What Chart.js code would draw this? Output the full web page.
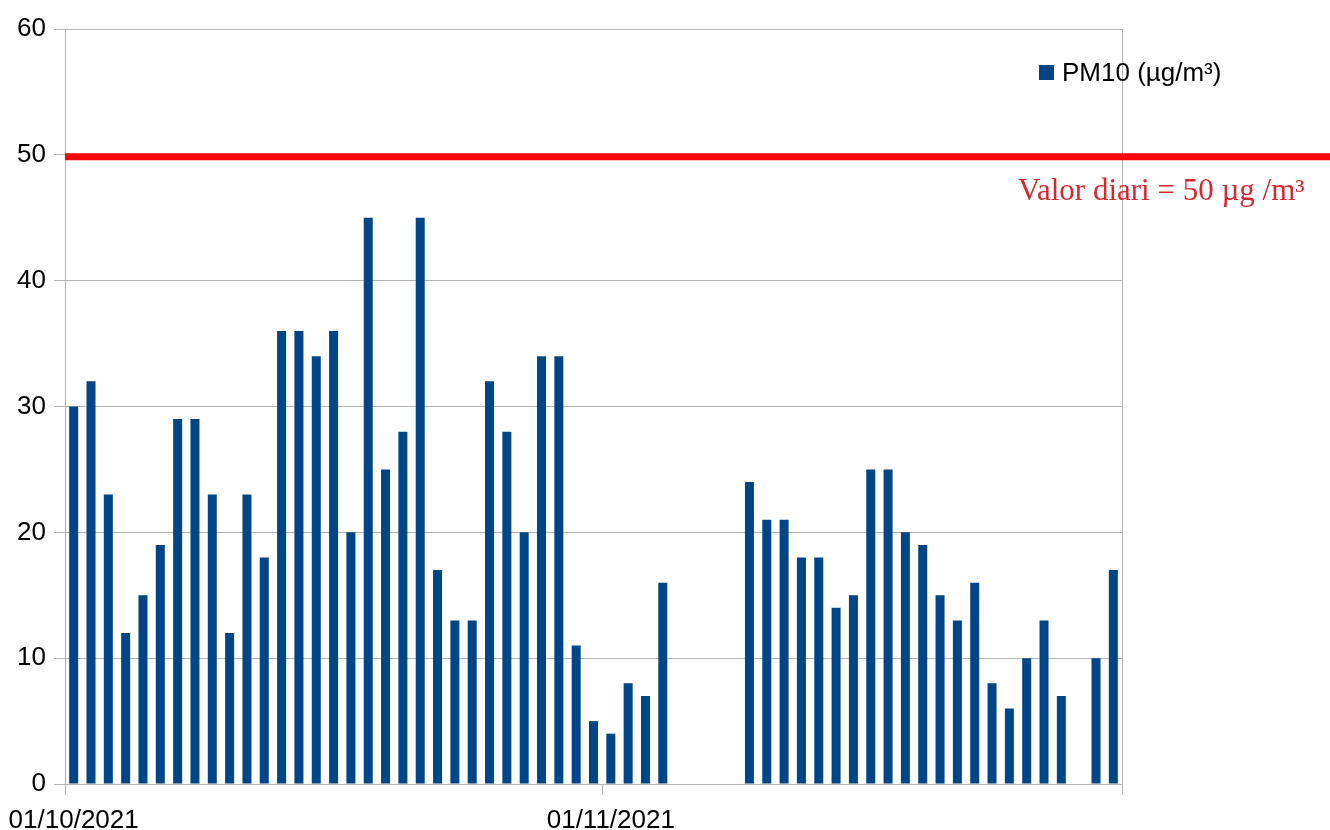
<!DOCTYPE html>
<html>
<head>
<meta charset="utf-8">
<script src="https://cdn.jsdelivr.net/npm/chart.js@4"></script>
<style>
  body { margin: 0; background: #fff; }
</style>
</head>
<body>
<canvas id="pmChart" width="1330" height="830"></canvas>
<script>
// dies de l'1/10/2021 al 30/11/2021
const startDate = new Date(2021, 9, 1);
const numDays = 61;
const pm10 = [
  30, 32, 23, 12, 15, 19, 29, 29, 23, 12, 23, 18, 36, 36, 34, 36, 20, 45, 25, 28,
  45, 17, 13, 13, 32, 28, 20, 34, 34, 11, 5,
  4, 8, 7, 16, null, null, null, null, 24, 21, 21, 18, 18, 14, 15, 25, 25, 20, 19,
  15, 13, 16, 8, 6, 10, 13, 7, null, 10, 17
];
const yTicks = [0, 10, 20, 30, 40, 50, 60];
const limitValue = 50;
const limitText = 'Valor diari = 50 µg /m³';
const seriesName = 'PM10 (µg/m³)';

const labels = [];
for (let i = 0; i < numDays; i++) {
  const d = new Date(startDate.getFullYear(), startDate.getMonth(), startDate.getDate() + i);
  const dd = String(d.getDate()).padStart(2, '0');
  const mm = String(d.getMonth() + 1).padStart(2, '0');
  labels.push(dd + '/' + mm + '/' + d.getFullYear());
}

const barColor = '#004586';
const gridColor = '#b3b3b3';
const font = { family: '"Liberation Sans", Arial, sans-serif', size: 26 };

// linia del valor límit, llegenda i vora dreta
const extras = {
  id: 'extras',
  afterDatasetsDraw(chart) {
    const ctx = chart.ctx;
    const area = chart.chartArea;
    const y = chart.scales.y.getPixelForValue(limitValue) + 2;
    ctx.save();

    ctx.strokeStyle = gridColor;
    ctx.lineWidth = 1;
    ctx.beginPath();
    ctx.moveTo(area.right + 0.5, area.top);
    ctx.lineTo(area.right + 0.5, area.bottom + 11);
    ctx.stroke();

    ctx.strokeStyle = '#ff0000';
    ctx.lineWidth = 7;
    ctx.beginPath();
    ctx.moveTo(area.left, y);
    ctx.lineTo(chart.width, y);
    ctx.stroke();

    ctx.fillStyle = '#d42a2f';
    ctx.font = '31px "Liberation Serif", "Times New Roman", serif';
    ctx.textBaseline = 'alphabetic';
    ctx.textAlign = 'left';
    ctx.fillText(limitText, 1018, y + 43);

    ctx.fillStyle = barColor;
    ctx.fillRect(1039, 65, 15, 15);
    ctx.fillStyle = '#000';
    ctx.font = '26px "Liberation Sans", Arial, sans-serif';
    ctx.textBaseline = 'middle';
    ctx.fillText(seriesName, 1062, 74);
    ctx.restore();
  }
};

new Chart(document.getElementById('pmChart'), {
  type: 'bar',
  data: {
    labels: labels,
    datasets: [{
      label: seriesName,
      data: pm10,
      backgroundColor: barColor,
      barPercentage: 0.52,
      categoryPercentage: 1
    }]
  },
  options: {
    responsive: false,
    animation: false,
    layout: { padding: { top: 29, right: 208, left: 0, bottom: 0 } },
    plugins: {
      legend: { display: false },
      tooltip: { enabled: false }
    },
    scales: {
      x: {
        offset: true,
        grid: {
          offset: true,
          drawOnChartArea: false,
          drawTicks: true,
          tickLength: 11,
          color: function (c) {
            if (c.type !== 'tick') return gridColor;
            return labels[c.index] && labels[c.index].startsWith('01/') ? gridColor : 'rgba(0,0,0,0)';
          }
        },
        border: { color: gridColor },
        ticks: {
          autoSkip: false,
          maxRotation: 0,
          padding: 10,
          color: '#000',
          font: font,
          callback: function (v, i) {
            return labels[i].startsWith('01/') ? labels[i] : '';
          }
        },
        afterFit: function (scale) {
          scale.height = 46;
          scale.paddingLeft = 0;
          scale.paddingRight = 0;
        }
      },
      y: {
        min: 0,
        max: 60,
        afterBuildTicks: function (scale) {
          scale.ticks = yTicks.map(v => ({ value: v }));
        },
        grid: { color: gridColor, tickLength: 11 },
        border: { color: gridColor },
        ticks: { color: '#000', font: font, padding: 8 },
        afterFit: function (scale) { scale.width = 65; }
      }
    }
  },
  plugins: [extras]
});
</script>
</body>
</html>
